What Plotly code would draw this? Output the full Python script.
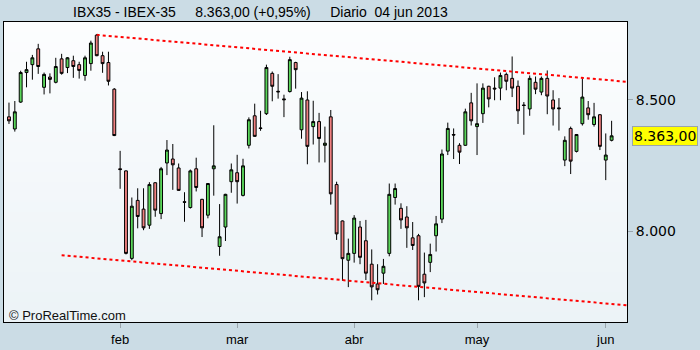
import plotly.graph_objects as go

# Trading-day index (0 = 7 Jan 2013 ... 103 = 4 Jun 2013)
idx = list(range(104))

opens = [8435, 8389, 8491, 8603, 8633, 8693, 8547, 8586, 8566, 8655,
         8622, 8648, 8633, 8592, 8637, 8745, 8667, 8641, 8540, 8238,
         8230, 7898, 8118, 8085, 8024, 8185, 8068, 8260, 8275, 8241,
         8113, 8091, 8238, 8122, 8062, 8238, 7943, 8017, 8189, 8223,
         8137, 8327, 8439, 8393, 8447, 8600, 8532, 8503, 8531, 8641,
         8386, 8499, 8398, 8417, 8327, 8435, 8178, 8040, 7891, 7917,
         8017, 7965, 7876, 7801, 7842, 7917, 8129, 8088, 8055, 7976,
         7984, 7838, 7883, 7984, 8047, 8305, 8368, 8327, 8327, 8488,
         8398, 8447, 8551, 8544, 8544, 8596, 8581, 8551, 8480, 8465,
         8566, 8529, 8581, 8499, 8469, 8271, 8391, 8304, 8409, 8469,
         8406, 8443, 8271, 8346]
highs = [8489, 8495, 8610, 8644, 8670, 8712, 8603, 8600, 8659, 8674,
         8662, 8667, 8644, 8667, 8724, 8749, 8682, 8682, 8544, 8306,
         8232, 8129, 8164, 8164, 8187, 8187, 8245, 8347, 8332, 8258,
         8149, 8235, 8280, 8124, 8184, 8403, 8104, 8143, 8258, 8291,
         8276, 8433, 8485, 8458, 8633, 8607, 8597, 8519, 8663, 8644,
         8529, 8532, 8496, 8450, 8398, 8461, 8189, 8042, 7973, 8062,
         8040, 8044, 7932, 7876, 7896, 8182, 8182, 8107, 8096, 8036,
         7991, 7920, 7954, 8059, 8311, 8413, 8391, 8335, 8466, 8526,
         8562, 8562, 8553, 8585, 8603, 8603, 8664, 8573, 8491, 8592,
         8588, 8588, 8611, 8536, 8506, 8361, 8398, 8370, 8581, 8495,
         8488, 8445, 8372, 8420]
lows = [8408, 8379, 8488, 8547, 8576, 8598, 8520, 8524, 8562, 8595,
        8601, 8583, 8580, 8572, 8610, 8665, 8602, 8554, 8362, 8162,
        7913, 7891, 8012, 8005, 8010, 8056, 8047, 8214, 8158, 8155,
        8037, 8087, 8152, 7979, 8050, 8136, 7908, 7964, 8147, 8106,
        8133, 8315, 8360, 8382, 8442, 8494, 8504, 8434, 8527, 8542,
        8352, 8255, 8330, 8262, 8262, 8102, 7968, 7813, 7789, 7882,
        7876, 7816, 7739, 7761, 7801, 7906, 8102, 8010, 7938, 7930,
        7739, 7751, 7846, 7924, 8032, 8290, 8275, 8256, 8325, 8402,
        8290, 8412, 8471, 8498, 8498, 8536, 8510, 8408, 8367, 8439,
        8521, 8517, 8445, 8402, 8383, 8248, 8218, 8300, 8402, 8424,
        8398, 8309, 8195, 8342]
closes = [8420, 8454, 8603, 8614, 8659, 8626, 8596, 8577, 8626, 8600,
          8659, 8626, 8611, 8659, 8715, 8667, 8637, 8570, 8364, 8235,
          7917, 8096, 8057, 8014, 8178, 8081, 8238, 8309, 8253, 8156,
          8111, 8230, 8167, 8014, 8182, 8249, 7980, 8141, 8234, 8189,
          8249, 8424, 8361, 8391, 8622, 8551, 8530, 8500, 8652, 8614,
          8506, 8323, 8417, 8353, 8335, 8143, 7991, 7897, 7917, 8051,
          7902, 7842, 7790, 7779, 7868, 8141, 8163, 8044, 8014, 7947,
          7792, 7805, 7913, 8029, 8294, 8391, 8366, 8301, 8454, 8420,
          8409, 8544, 8503, 8541, 8592, 8570, 8544, 8458, 8478, 8581,
          8540, 8581, 8514, 8465, 8466, 8346, 8267, 8368, 8510, 8443,
          8435, 8323, 8290, 8363]

month_idx = [19, 39, 59, 80, 102]
month_labels = ["feb", "mar", "abr", "may", "jun"]
y_ticks = [8000, 8500]
y_labels = ["8.000", "8.500"]

upper_x = [15.0, 105.6]
upper_y = [8746, 8568]
lower_x = [9.0, 105.6]
lower_y = [7910, 7720]

last_price = 8363
last_label = "8.363,00"
gap = "\u00a0" * 4 + " "
title_text = "IBX35 - IBEX-35" + gap + "8.363,00 (+0,95%)" + gap + "Diario\u00a0 04 jun 2013"

fig = go.Figure()

# gradient background bands
n_bands = 30
top_rgb = (252, 253, 254)
bot_rgb = (236, 243, 247)
shapes = []
for k in range(n_bands):
    t = k / (n_bands - 1)
    r = round(top_rgb[0] + (bot_rgb[0] - top_rgb[0]) * t)
    g = round(top_rgb[1] + (bot_rgb[1] - top_rgb[1]) * t)
    b = round(top_rgb[2] + (bot_rgb[2] - top_rgb[2]) * t)
    shapes.append(dict(type="rect", xref="paper", yref="paper", x0=0, x1=1,
                       y0=1 - (k + 1) / n_bands, y1=1 - k / n_bands,
                       fillcolor=f"rgb({r},{g},{b})", line=dict(width=0), layer="below"))

fig.add_trace(go.Candlestick(
    x=idx, open=opens, high=highs, low=lows, close=closes,
    increasing=dict(fillcolor="#5AD65A", line=dict(color="black", width=1)),
    decreasing=dict(fillcolor="#F08080", line=dict(color="black", width=1)),
    showlegend=False, hoverinfo="skip"))

fig.add_trace(go.Scatter(x=upper_x, y=upper_y, mode="lines",
                         line=dict(color="#FF0000", width=2, dash="3px,3px"),
                         showlegend=False, hoverinfo="skip"))
fig.add_trace(go.Scatter(x=lower_x, y=lower_y, mode="lines",
                         line=dict(color="#FF0000", width=2, dash="3px,3px"),
                         showlegend=False, hoverinfo="skip"))

fig.update_layout(
    width=700, height=350,
    margin=dict(l=3, r=73, t=22, b=23),
    paper_bgcolor="#CBDCE5",
    plot_bgcolor="#F4F8FA",
    shapes=shapes,
    showlegend=False,
    title=dict(text=title_text, x=73 / 700, xanchor="left", y=1 - 12 / 350, yanchor="middle",
               font=dict(family="Liberation Sans", size=14, color="black")),
    xaxis=dict(range=[-0.85, 105.63], rangeslider=dict(visible=False),
               tickmode="array", tickvals=month_idx, ticktext=month_labels,
               ticks="outside", ticklen=5, tickcolor="#9AA5AC", tickwidth=1,
               showgrid=False, zeroline=False,
               showline=True, linecolor="black", linewidth=1, mirror=True,
               tickfont=dict(family="Liberation Sans", size=13, color="black")),
    yaxis=dict(range=[7656.7, 8794.8], side="right",
               tickmode="array", tickvals=y_ticks, ticktext=y_labels,
               ticks="outside", ticklen=5, tickcolor="#9AA5AC", tickwidth=1,
               showgrid=False, zeroline=False,
               showline=True, linecolor="black", linewidth=1, mirror=True,
               tickfont=dict(family="DejaVu Sans", size=14, color="black")),
    annotations=[
        dict(text=last_label, xref="paper", yref="y", x=(632 - 3) / 624, y=last_price,
             xanchor="left", yanchor="middle", showarrow=False,
             font=dict(family="DejaVu Sans", size=14, color="black"),
             bgcolor="#FFFF00", bordercolor="#9AA5AC", borderwidth=1, borderpad=1),
        dict(text="\u00a9 ProRealTime.com", xref="paper", yref="paper",
             x=(6 - 3) / 624, y=(327 - 320) / 305, xanchor="left", yanchor="middle",
             showarrow=False, font=dict(family="Liberation Sans", size=13, color="#111111")),
    ],
)

fig.write_html("out.html")
